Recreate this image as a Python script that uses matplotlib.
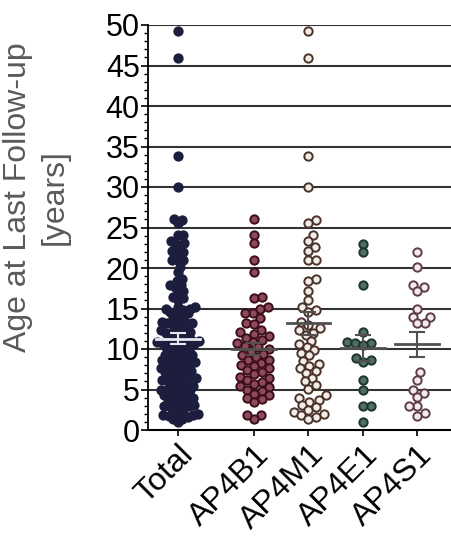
import numpy as np
import matplotlib
matplotlib.use("Agg")
import matplotlib.pyplot as plt
from matplotlib.ticker import MultipleLocator

plt.rcParams['font.family'] = ['Liberation Sans', 'DejaVu Sans']

# values (years)
ap4b1 = [26.0, 24.1, 23.1, 21.0, 19.5,
         16.3, 16.4, 15.2, 15.0, 14.4, 14.5, 13.8, 13.2, 13.1,
         12.4, 12.1, 11.9, 11.6, 11.4, 11.1, 10.9, 10.7, 10.4, 10.2, 10.0, 9.8,
         9.4, 9.2, 9.0, 8.7, 8.6, 8.3, 8.0, 7.9, 7.6, 7.4, 7.1, 6.9, 6.6, 6.4,
         6.2, 5.9, 5.7, 5.4, 5.3, 5.0, 4.8, 4.5, 4.3, 4.0, 3.8, 3.5, 1.9, 1.4, 1.9]
ap4m1 = [49.3, 45.9, 33.8, 30.0,
         25.9, 25.5, 24.1, 23.3, 22.6, 22.1, 21.0, 21.0, 18.6, 18.4, 17.2, 16.1,
         15.2, 14.8, 14.6, 13.3, 13.0, 12.6, 12.3, 12.0, 11.7,
         11.0, 10.6, 10.2, 9.9, 9.5, 9.2, 8.5, 8.2, 7.9, 7.6, 7.3, 7.0,
         6.4, 6.0, 5.5, 5.1, 4.3, 4.0, 3.7, 3.5,
         3.1, 2.8, 2.5, 2.2, 2.0, 1.8, 1.6, 1.4]
ap4e1 = [23.0, 22.0, 17.9, 12.1, 10.9, 10.8, 10.7, 10.5,
         8.9, 8.6, 8.4, 6.2, 4.9, 3.0, 3.0, 1.0]
ap4s1 = [22.0, 20.1, 17.9, 17.7, 17.1, 15.0, 14.0, 14.0, 13.2, 13.2,
         7.1, 6.2, 4.9, 4.6, 4.1, 3.0, 3.0, 2.1, 1.7]
total = ap4b1 + ap4m1 + ap4e1 + ap4s1

labels = ["Total", "AP4B1", "AP4M1", "AP4E1", "AP4S1"]
groups = [total, ap4b1, ap4m1, ap4e1, ap4s1]
positions = [0, 1.4, 2.4, 3.4, 4.4]
faces = ["#1d1d3e", "#8e4a58", "#f3ede9", "#4f6f60", "#f2eaec"]
edges = ["#1d1d3e", "#3c0e1b", "#4a3228", "#1e362c", "#5e3c4c"]

W, H = 452, 540
fig = plt.figure(figsize=(W / 100, H / 100), dpi=100)
ax = fig.add_axes([148 / W, 110 / H, 1 - 148 / W, 405 / H])
ax.set_xlim(-0.55, 5.04)
ax.set_ylim(0, 50)

px_x = 304 / 5.59   # pixels per x unit
px_y = 405 / 50     # pixels per y unit


def swarm(vals, d):
    # simple beeswarm in pixel space, returns x offsets in pixels
    order = np.argsort(vals)
    ys = np.asarray(vals)[order] * px_y
    placed = []
    out = np.zeros(len(vals))
    for i, y in zip(order, ys):
        cands = [0.0]
        for (px, py) in placed:
            dy = y - py
            if abs(dy) < d:
                dx = np.sqrt(d * d - dy * dy)
                cands += [px + dx, px - dx]
        cands.sort(key=abs)
        for c in cands:
            if all((c - px) ** 2 + (y - py) ** 2 >= d * d - 1e-6 for (px, py) in placed):
                break
        placed.append((c, y))
        out[i] = c
    return out


for k, (vals, pos) in enumerate(zip(groups, positions)):
    d = 5.5 if k == 0 else 8.0
    offs = swarm(vals, d) / px_x
    ax.scatter(pos + offs, vals, s=36, facecolor=faces[k], edgecolor=edges[k],
               linewidth=1.4, zorder=3, clip_on=False)
    m = np.mean(vals)
    sem = np.std(vals, ddof=1) / np.sqrt(len(vals))
    lc = "#e8e8f0" if k == 0 else "#505050"
    ax.plot([pos - 0.4, pos + 0.4], [m, m], color=lc, lw=2, zorder=4)
    ax.errorbar(pos, m, yerr=sem, color=lc, lw=1.5, capsize=6, capthick=1.5, zorder=4)

for yv in range(5, 51, 5):
    ax.axhline(yv, color="#333333", lw=1.5, zorder=1)

for s in ["top", "right"]:
    ax.spines[s].set_visible(False)
ax.spines["left"].set_linewidth(1.3)
ax.spines["bottom"].set_linewidth(1.5)

ax.yaxis.set_major_locator(MultipleLocator(5))
ax.yaxis.set_minor_locator(MultipleLocator(1))
ax.tick_params(axis="y", which="major", length=5, width=1.2, labelsize=22, pad=1)
ax.tick_params(axis="y", which="minor", length=3, width=1)
ax.set_xticks(positions)
ax.set_xticklabels(labels, rotation=45, ha="right", rotation_mode="anchor", fontsize=23)
ax.tick_params(axis="x", length=4, width=1.2, pad=3)

fig.text(0.08, 0.635, "Age at Last Follow-up\n[years]", rotation=90, ha="center",
         va="center", fontsize=23, color="#5a5a5a", linespacing=1.3,
         multialignment="center")

fig.savefig("out.png", dpi=100)
